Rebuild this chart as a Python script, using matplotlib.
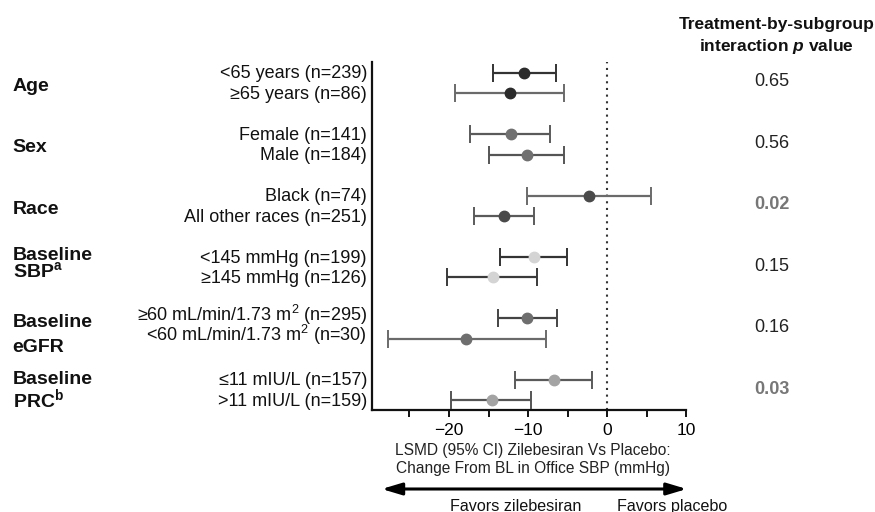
import numpy as np
import matplotlib
matplotlib.use("Agg")
import matplotlib.pyplot as plt
import matplotlib.transforms as mtransforms
from matplotlib.patches import FancyArrowPatch

plt.rcParams['font.family'] = ['Liberation Sans', 'DejaVu Sans']
plt.rcParams['mathtext.fontset'] = 'custom'
plt.rcParams['mathtext.rm'] = 'Liberation Sans'
plt.rcParams['mathtext.it'] = 'Liberation Sans:italic:bold'
plt.rcParams['mathtext.bf'] = 'Liberation Sans:bold'

# subgroup data (LSMD and 95% CI, mmHg)
groups = ["Age", "Sex", "Race", "Baseline\nSBP$^{\\mathbf{a}}$",
          "Baseline\neGFR", "Baseline\nPRC$^{\\mathbf{b}}$"]
subgroups = ["<65 years (n=239)", "≥65 years (n=86)",
             "Female (n=141)", "Male (n=184)",
             "Black (n=74)", "All other races (n=251)",
             "<145 mmHg (n=199)", "≥145 mmHg (n=126)",
             "≥60 mL/min/1.73 m$^2$ (n=295)", "<60 mL/min/1.73 m$^2$ (n=30)",
             "≤11 mIU/L (n=157)", ">11 mIU/L (n=159)"]
lsmd = [-10.5, -12.3, -12.2, -10.2, -2.3, -13.0, -9.3, -14.5, -10.1, -17.8, -6.7, -14.6]
ci_lo = [-14.4, -19.2, -17.3, -14.9, -10.1, -16.8, -13.6, -20.2, -13.8, -27.7, -11.6, -19.7]
ci_hi = [-6.5, -5.5, -7.2, -5.4, 5.6, -9.2, -5.1, -8.9, -6.4, -7.7, -1.9, -9.6]
p_values = ["0.65", "0.56", "0.02", "0.15", "0.16", "0.03"]
p_signif = [False, False, True, False, False, True]

marker_colors = ['#2b2b2b', '#2b2b2b', '#707070', '#707070', '#4a4a4a', '#4a4a4a',
                 '#d4d4d4', '#d4d4d4', '#6e6e6e', '#6e6e6e', '#a3a3a3', '#a3a3a3']
line_colors = ['#333333', '#6a6a6a', '#5a5a5a', '#555555', '#6a6a6a', '#5a5a5a',
               '#333333', '#3a3a3a', '#444444', '#6a6a6a', '#5a5a5a', '#555555']

fig = plt.figure(figsize=(8.75, 5.12), dpi=100)
ax = fig.add_axes([0.4246, 0.1992, 0.3597, 0.6797])

ypos = [3 * (i // 2) + (i % 2) for i in range(len(lsmd))]

for i in range(len(lsmd)):
    ax.errorbar(lsmd[i], ypos[i],
                xerr=[[lsmd[i] - ci_lo[i]], [ci_hi[i] - lsmd[i]]],
                fmt='o', ms=7.5, mfc=marker_colors[i], mec=marker_colors[i],
                ecolor=line_colors[i], elinewidth=1.6, capsize=6.5, capthick=1.4,
                zorder=3)

ax.axvline(0, color='#333333', lw=1.5, ls=(0, (1, 2.2)), zorder=1)

ax.set_xlim(-29.8, 10)
ax.set_ylim(16.47, -0.52)
ax.set_xticks([-20, -10, 0, 10])
ax.set_xticks([-25, -15, -5, 5], minor=True)
ax.set_yticks([])
ax.tick_params(axis='x', which='both', length=5, width=1.4, direction='out',
               labelsize=12.5, pad=4, color='#111111')
for s in ['top', 'right']:
    ax.spines[s].set_visible(False)
for s in ['left', 'bottom']:
    ax.spines[s].set_linewidth(1.6)
    ax.spines[s].set_color('#111111')

# labels left of the axis
tr = mtransforms.blended_transform_factory(fig.transFigure, ax.transData)
for i, lab in enumerate(subgroups):
    off = 0.12 if 8 <= i <= 9 else 0.27
    ax.text(0.4194, ypos[i] + off, lab, transform=tr, ha='right', va='baseline',
            fontsize=13, color='#111111')

group_lines = [[0.88], [3.88], [6.88], [9.15, 9.99], [12.40, 13.63], [15.22, 16.31]]
for g, lab in enumerate(groups):
    for line, yb in zip(lab.split("\n"), group_lines[g]):
        ax.text(0.0143, yb, line, transform=tr, ha='left', va='baseline',
                fontsize=14, fontweight='bold', color='#111111')

# p values column
for g, p in enumerate(p_values):
    if p_signif[g]:
        ax.text(0.882, 3 * g + 0.67, p, transform=tr, ha='center', va='baseline',
                fontsize=13, fontweight='bold', color='#777777')
    else:
        ax.text(0.882, 3 * g + 0.67, p, transform=tr, ha='center', va='baseline',
                fontsize=13, color='#222222')

fig.text(0.8877, 0.9428, "Treatment-by-subgroup", ha='center', va='baseline',
         fontsize=12.5, fontweight='bold', color='#111111')
fig.text(0.8877, 0.9004, "interaction $p$ value", ha='center', va='baseline',
         fontsize=12.5, fontweight='bold', color='#111111')

# x label and direction arrow
fig.text(0.609, 1 - 455.5 / 512, "LSMD (95% CI) Zilebesiran Vs Placebo:",
         ha='center', va='baseline', fontsize=11.2, color='#222222')
fig.text(0.609, 1 - 473.5 / 512, "Change From BL in Office SBP (mmHg)",
         ha='center', va='baseline', fontsize=11.2, color='#222222')

arrow = FancyArrowPatch((381.7 / 875, 1 - 489 / 512), (686.7 / 875, 1 - 489 / 512),
                        transform=fig.transFigure,
                        arrowstyle='<|-|>,head_length=0.6,head_width=0.18',
                        mutation_scale=20, lw=2.2, color='#000000',
                        shrinkA=0, shrinkB=0)
fig.add_artist(arrow)
fig.text(515.9 / 875, 0.001, "Favors zilebesiran", ha='center', va='baseline',
         fontsize=11.6, color='#111111')
fig.text(616.7 / 875, 0.001, "Favors placebo", ha='left', va='baseline',
         fontsize=11.6, color='#111111')

fig.savefig("out.png", dpi=100)
